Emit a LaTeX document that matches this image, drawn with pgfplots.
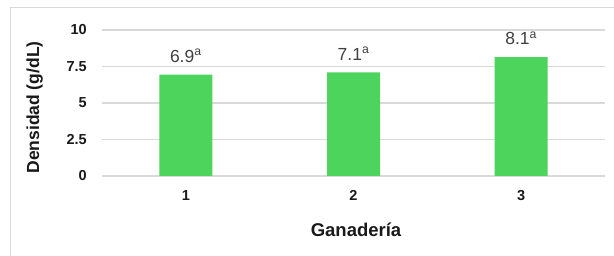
\documentclass[border=0pt]{standalone}
\usepackage{fontspec}
\setmainfont{Liberation Sans}
\usepackage{pgfplots}
\pgfplotsset{compat=1.18}
\definecolor{barg}{RGB}{76,212,92}
\definecolor{gridg}{RGB}{217,217,217}
\definecolor{lbl}{RGB}{64,64,64}
\begin{document}
\begin{tikzpicture}[x=1pt,y=1pt]
\useasboundingbox (0,0) rectangle (614,256);
\draw[gridg, line width=1pt] (10.5,-10) -- (10.5,248.5) -- (630,248.5);
\begin{axis}[
  at={(102pt,80pt)}, anchor=south west,
  scale only axis, width=503pt, height=146pt,
  xmin=0.5, xmax=3.5, ymin=0, ymax=10,
  axis line style={draw=none},
  major tick length=0pt,
  ytick={0,2.5,5,7.5,10},
  yticklabels={0,2.5,5,7.5,10},
  xtick={1,2,3},
  xticklabels={1,2,3},
  ymajorgrids,
  grid style={gridg, line width=1.2pt},
  /pgf/number format/assume math mode=true,
  yticklabel style={font=\fontsize{14.5}{16}\selectfont\bfseries, text=black!90, anchor=east, inner sep=0pt, xshift=-15pt},
  xticklabel style={font=\fontsize{14.5}{16}\selectfont\bfseries, text=black!90, anchor=north, inner sep=0pt, yshift=-14pt},
  xlabel={Ganadería},
  ylabel={Densidad (g/dL)},
  xlabel style={font=\fontsize{18.5}{20}\selectfont\bfseries, text=black!90, at={(axis description cs:0.505,0)}, anchor=base, inner sep=0pt, yshift=-61pt},
  ylabel style={font=\fontsize{17.5}{19}\selectfont\bfseries, text=black!90, at={(axis description cs:-0.1252,0.469)}, anchor=base, inner sep=0pt},
  ybar, bar width=53pt,
  nodes near coords,
  point meta=explicit symbolic,
  nodes near coords style={font=\fontsize{17.5}{19}\selectfont, text=lbl, anchor=south, inner sep=0pt, yshift=12pt},
]
\addplot[fill=barg, draw=none] coordinates {
  (1,6.95) [6.9\textsuperscript{a}]
  (2,7.1) [7.1\textsuperscript{a}]
  (3,8.15) [8.1\textsuperscript{a}]
};
\end{axis}
\end{tikzpicture}
\end{document}
